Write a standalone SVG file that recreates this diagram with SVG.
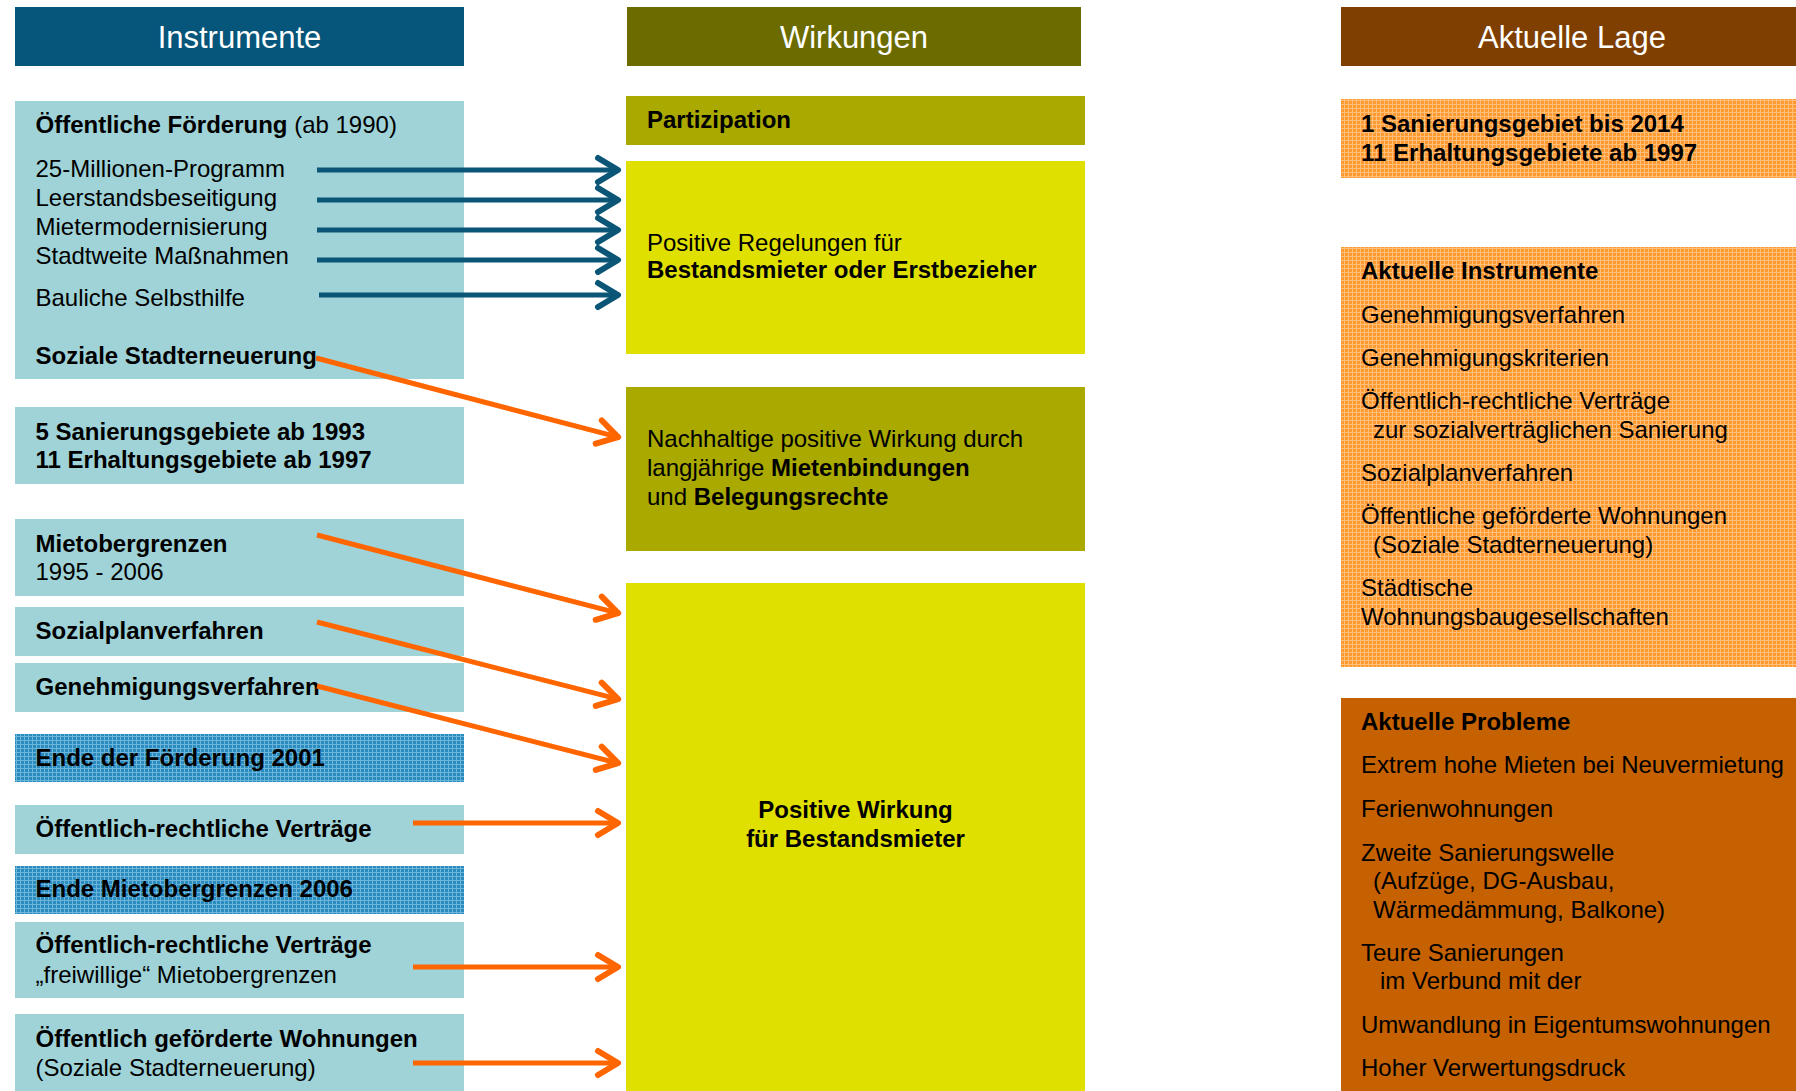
<svg xmlns="http://www.w3.org/2000/svg" width="1796" height="1091" viewBox="0 0 1796 1091">
<defs>
<style>
text{font-family:"Liberation Sans",Arial,Helvetica,sans-serif;font-size:24px;fill:#000}
.hd{font-size:31px;fill:#fff;text-anchor:middle}
.b{font-weight:bold}
.teal{fill:#9FD3D7}
.olive{fill:#A9A900}
.yellow{fill:#E0E000}
.blue{stroke:#0B5577;stroke-width:5;fill:none}
.orange{stroke:#FF6600;stroke-width:5;fill:none}
</style>
<pattern id="pBlue" width="4" height="4" patternUnits="userSpaceOnUse">
<rect width="4" height="4" fill="#2A8BBE"/>
<rect width="4" height="1" fill="#6CB4DA"/>
<rect width="1" height="4" fill="#6CB4DA"/>
</pattern>
<pattern id="pOrange" width="4" height="4" patternUnits="userSpaceOnUse">
<rect width="4" height="4" fill="#FF9A30"/>
<rect width="4" height="1" fill="#FFBE7A"/>
<rect width="1" height="4" fill="#FFBE7A"/>
</pattern>
<marker id="mBlue" markerUnits="userSpaceOnUse" markerWidth="40" markerHeight="40" viewBox="-30 -20 40 40" refX="0" refY="0" orient="auto">
<path d="M-20,-12 L0,0 L-20,12" fill="none" stroke="#0B5577" stroke-width="6" stroke-linecap="round" stroke-linejoin="round"/>
</marker>
<marker id="mOrange" markerUnits="userSpaceOnUse" markerWidth="40" markerHeight="40" viewBox="-30 -20 40 40" refX="0" refY="0" orient="auto">
<path d="M-20,-12 L0,0 L-20,12" fill="none" stroke="#FF6600" stroke-width="6" stroke-linecap="round" stroke-linejoin="round"/>
</marker>
</defs>
<rect width="1796" height="1091" fill="#fff"/>

<g id="header-instrumente">
<rect x="15" y="7" width="449" height="59" fill="#06557A"/>
<text class="hd" x="239.5" y="48">Instrumente</text>
</g>
<g id="header-wirkungen">
<rect x="627" y="7" width="454" height="59" fill="#6B6B00"/>
<text class="hd" x="854" y="48">Wirkungen</text>
</g>
<g id="header-lage">
<rect x="1341" y="7" width="455" height="59" fill="#7F3F00"/>
<text class="hd" x="1572" y="48">Aktuelle Lage</text>
</g>

<g id="foerderung">
<rect class="teal" x="15" y="101" width="449" height="278"/>
<text x="35.5" y="133"><tspan class="b">Öffentliche Förderung</tspan> (ab 1990)</text>
<text x="35.5" y="177">25-Millionen-Programm</text>
<text x="35.5" y="206">Leerstandsbeseitigung</text>
<text x="35.5" y="235">Mietermodernisierung</text>
<text x="35.5" y="264">Stadtweite Maßnahmen</text>
<text x="35.5" y="306">Bauliche Selbsthilfe</text>
<text class="b" x="35.5" y="364">Soziale Stadterneuerung</text>
</g>
<g id="gebiete">
<rect class="teal" x="15" y="407" width="449" height="77"/>
<text class="b" x="35.5" y="440">5 Sanierungsgebiete ab 1993</text>
<text class="b" x="35.5" y="468">11 Erhaltungsgebiete ab 1997</text>
</g>
<g id="mietobergrenzen">
<rect class="teal" x="15" y="519" width="449" height="77"/>
<text class="b" x="35.5" y="552">Mietobergrenzen</text>
<text x="35.5" y="580">1995 - 2006</text>
</g>
<g id="sozialplan">
<rect class="teal" x="15" y="607" width="449" height="49"/>
<text class="b" x="35.5" y="639">Sozialplanverfahren</text>
</g>
<g id="genehmigung">
<rect class="teal" x="15" y="663" width="449" height="49"/>
<text class="b" x="35.5" y="695">Genehmigungsverfahren</text>
</g>
<g id="ende-foerderung">
<rect x="15" y="734" width="449" height="48" fill="url(#pBlue)"/>
<text class="b" x="35.5" y="766">Ende der Förderung 2001</text>
</g>
<g id="vertraege1">
<rect class="teal" x="15" y="805" width="449" height="49"/>
<text class="b" x="35.5" y="837">Öffentlich-rechtliche Verträge</text>
</g>
<g id="ende-mietobergrenzen">
<rect x="15" y="866" width="449" height="48" fill="url(#pBlue)"/>
<text class="b" x="35.5" y="897">Ende Mietobergrenzen 2006</text>
</g>
<g id="vertraege2">
<rect class="teal" x="15" y="922" width="449" height="76"/>
<text class="b" x="35.5" y="953">Öffentlich-rechtliche Verträge</text>
<text x="35.5" y="983">„freiwillige“ Mietobergrenzen</text>
</g>
<g id="gefoerderte">
<rect class="teal" x="15" y="1014" width="449" height="77"/>
<text class="b" x="35.5" y="1047">Öffentlich geförderte Wohnungen</text>
<text x="35.5" y="1076">(Soziale Stadterneuerung)</text>
</g>

<g id="partizipation">
<rect class="olive" x="626" y="96" width="459" height="49"/>
<text class="b" x="647" y="128">Partizipation</text>
</g>
<g id="regelungen">
<rect class="yellow" x="626" y="161" width="459" height="193"/>
<text x="647" y="251">Positive Regelungen für</text>
<text class="b" x="647" y="278">Bestandsmieter oder Erstbezieher</text>
</g>
<g id="nachhaltig">
<rect class="olive" x="626" y="387" width="459" height="164"/>
<text x="647" y="447">Nachhaltige positive Wirkung durch</text>
<text x="647" y="476">langjährige <tspan class="b">Mietenbindungen</tspan></text>
<text x="647" y="505">und <tspan class="b">Belegungsrechte</tspan></text>
</g>
<g id="positive-wirkung">
<rect class="yellow" x="626" y="583" width="459" height="508"/>
<text class="b" x="855.5" y="818" text-anchor="middle">Positive Wirkung</text>
<text class="b" x="855.5" y="847" text-anchor="middle">für Bestandsmieter</text>
</g>

<g id="lage-gebiete">
<rect x="1341" y="99" width="455" height="79" fill="url(#pOrange)"/>
<text class="b" x="1361" y="132">1 Sanierungsgebiet bis 2014</text>
<text class="b" x="1361" y="161">11 Erhaltungsgebiete ab 1997</text>
</g>
<g id="aktuelle-instrumente">
<rect x="1341" y="247" width="455" height="420" fill="url(#pOrange)"/>
<text class="b" x="1361" y="279">Aktuelle Instrumente</text>
<text x="1361" y="323">Genehmigungsverfahren</text>
<text x="1361" y="366">Genehmigungskriterien</text>
<text x="1361" y="409">Öffentlich-rechtliche Verträge</text>
<text x="1373" y="438">zur sozialverträglichen Sanierung</text>
<text x="1361" y="481">Sozialplanverfahren</text>
<text x="1361" y="524">Öffentliche geförderte Wohnungen</text>
<text x="1373" y="553">(Soziale Stadterneuerung)</text>
<text x="1361" y="596">Städtische</text>
<text x="1361" y="625">Wohnungsbaugesellschaften</text>
</g>
<g id="aktuelle-probleme">
<rect x="1341" y="698" width="455" height="393" fill="#C56100"/>
<text class="b" x="1361" y="730">Aktuelle Probleme</text>
<text x="1361" y="773">Extrem hohe Mieten bei Neuvermietung</text>
<text x="1361" y="817">Ferienwohnungen</text>
<text x="1361" y="861">Zweite Sanierungswelle</text>
<text x="1373" y="889">(Aufzüge, DG-Ausbau,</text>
<text x="1373" y="918">Wärmedämmung, Balkone)</text>
<text x="1361" y="961">Teure Sanierungen</text>
<text x="1380" y="989">im Verbund mit der</text>
<text x="1361" y="1033">Umwandlung in Eigentumswohnungen</text>
<text x="1361" y="1076">Hoher Verwertungsdruck</text>
</g>

<g id="connectors">
<line class="blue" x1="317" y1="170" x2="618" y2="170" marker-end="url(#mBlue)"/>
<line class="blue" x1="317" y1="200" x2="618" y2="200" marker-end="url(#mBlue)"/>
<line class="blue" x1="317" y1="230" x2="618" y2="230" marker-end="url(#mBlue)"/>
<line class="blue" x1="317" y1="260" x2="618" y2="260" marker-end="url(#mBlue)"/>
<line class="blue" x1="319" y1="295" x2="618" y2="295" marker-end="url(#mBlue)"/>
<line class="orange" x1="316" y1="358" x2="618.1" y2="437.2" marker-end="url(#mOrange)"/>
<line class="orange" x1="317" y1="535" x2="618.1" y2="613.2" marker-end="url(#mOrange)"/>
<line class="orange" x1="317" y1="622" x2="618.1" y2="699.2" marker-end="url(#mOrange)"/>
<line class="orange" x1="317" y1="686" x2="618.1" y2="763.2" marker-end="url(#mOrange)"/>
<line class="orange" x1="413" y1="823" x2="618" y2="823" marker-end="url(#mOrange)"/>
<line class="orange" x1="413" y1="967" x2="618" y2="967" marker-end="url(#mOrange)"/>
<line class="orange" x1="413" y1="1063" x2="618" y2="1063" marker-end="url(#mOrange)"/>
</g>
</svg>
